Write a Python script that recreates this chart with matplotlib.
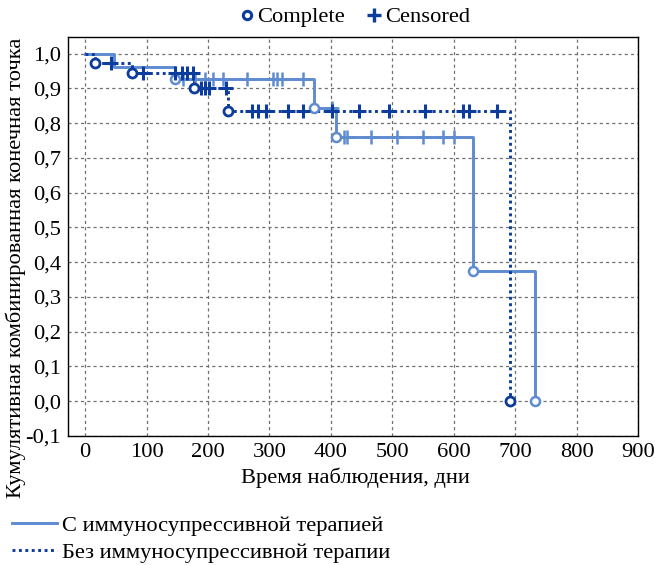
import matplotlib
matplotlib.use("Agg")
import matplotlib.pyplot as plt
from matplotlib.lines import Line2D
import numpy as np

plt.rcParams['font.family'] = ['Liberation Serif', 'DejaVu Serif']

# --- Data ---
# With immunosuppressive therapy (solid)
solid_step_t = [0, 47, 146, 373, 409, 631, 732]
solid_step_s = [1.0, 0.961, 0.926, 0.843, 0.760, 0.375, 0.0]
solid_event_t = [146, 373, 409, 631, 732]
solid_event_s = [0.926, 0.843, 0.760, 0.375, 0.0]
solid_cens_t = [160, 178, 195, 208, 225, 263, 306, 313, 321, 355,
                401, 422, 427, 466, 507, 550, 583, 601]
solid_cens_s = [0.926] * 10 + [0.843] + [0.760] * 7

# Without immunosuppressive therapy (dotted)
dot_step_t = [0, 16, 76, 177, 232, 691]
dot_step_s = [1.0, 0.973, 0.943, 0.900, 0.835, 0.0]
dot_event_t = [16, 76, 177, 232, 691]
dot_event_s = [0.973, 0.943, 0.900, 0.835, 0.0]
dot_cens_t = [42, 94, 147, 157, 165, 175, 188, 195, 202, 229,
              271, 281, 294, 330, 355, 401, 445, 495, 554, 615, 625, 670]
dot_cens_s = [0.973, 0.943, 0.943, 0.943, 0.943, 0.943, 0.900, 0.900, 0.900, 0.900] + [0.835] * 12

x_ticks = [0, 100, 200, 300, 400, 500, 600, 700, 800, 900]
y_ticks = [1.0, 0.9, 0.8, 0.7, 0.6, 0.5, 0.4, 0.3, 0.2, 0.1, 0.0, -0.1]
y_ticklabels = ['1,0', '0,9', '0,8', '0,7', '0,6', '0,5', '0,4', '0,3', '0,2', '0,1', '0,0', '-0,1']

series_labels = ['С иммуносупрессивной терапией', 'Без иммуносупрессивной терапии']

LIGHT = '#5f8bd0'
DARK = '#0c3c9c'
FS = 16.2

fig = plt.figure(figsize=(6.55, 5.65), dpi=100)
ax = fig.add_axes([68/655, 1-436/565, (638-68)/655, (436-37)/565])

# lines
ax.step(solid_step_t, solid_step_s, where='post', color=LIGHT, lw=2.1, zorder=3)
ax.step(dot_step_t, dot_step_s, where='post', color=DARK, lw=2.1,
        linestyle=(0, (1, 1.2)), zorder=4)

# markers
ax.plot(solid_cens_t, solid_cens_s, linestyle='none', marker='+', ms=10, mew=1.8,
        color=LIGHT, zorder=5)
ax.plot(solid_event_t, solid_event_s, linestyle='none', marker='o', ms=6.5, mew=1.8,
        mfc='white', mec=LIGHT, zorder=6)
ax.plot(dot_cens_t, dot_cens_s, linestyle='none', marker='+', ms=10, mew=2.2,
        color=DARK, zorder=7)
ax.plot(dot_event_t, dot_event_s, linestyle='none', marker='o', ms=6.5, mew=2.0,
        mfc='white', mec=DARK, zorder=8)

ax.set_xlim(-28, 900)
ax.set_ylim(-0.1, 1.048)
ax.set_xticks(x_ticks)
ax.set_xticklabels([str(v) for v in x_ticks])
ax.set_yticks(y_ticks)
ax.set_yticklabels(y_ticklabels)
ax.tick_params(length=0, labelsize=FS, pad=5)
ax.grid(True, color='#707070', linestyle=(0, (2.5, 2.5)), lw=0.9)
ax.set_axisbelow(True)
for sp in ax.spines.values():
    sp.set_linewidth(1.0)
    sp.set_color('black')

fig.text(355/655, 1-478/565, 'Время наблюдения, дни', ha='center', va='center', fontsize=FS)
fig.text(16/655, 1-268/565, 'Кумулятивная комбинированная конечная точка',
         ha='center', va='center', rotation=90, fontsize=FS)

# top legend
h1 = Line2D([], [], linestyle='none', marker='o', ms=6, mew=2.2, mfc='white', mec=DARK)
h2 = Line2D([], [], linestyle='none', marker='+', ms=10, mew=2.4, color=DARK)
fig.legend([h1, h2], ['Complete', 'Censored'], loc='center', bbox_to_anchor=(355/655, 1-17/565),
           ncol=2, frameon=False, fontsize=FS, handlelength=0.6, handletextpad=0.18,
           columnspacing=1.0, borderaxespad=0, borderpad=0)

# bottom legend
l1 = Line2D([], [], color=LIGHT, lw=2.1)
l2 = Line2D([], [], color=DARK, lw=2.1, linestyle=(0, (1, 1.2)))
fig.legend([l1, l2], series_labels, loc='upper left', bbox_to_anchor=(12/655, 1-515/565),
           frameon=False, fontsize=FS, handlelength=2.0, handletextpad=0.22,
           labelspacing=0.28, borderaxespad=0, borderpad=0)

fig.savefig('out.png', dpi=100)
